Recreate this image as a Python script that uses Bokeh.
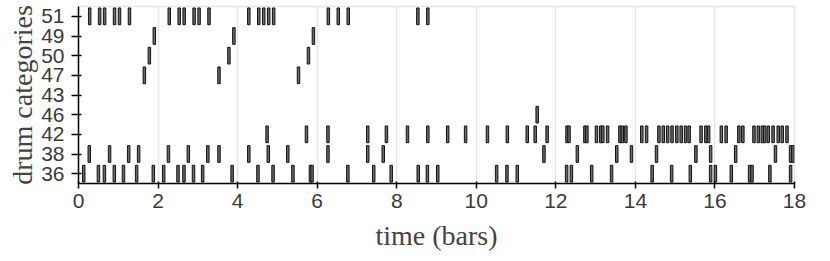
from bokeh.plotting import figure
from bokeh.models import ColumnDataSource, FactorRange, Range1d, FixedTicker
from bokeh.embed import file_html
from bokeh.resources import INLINE

# categories from bottom to top
categories = ["36", "38", "42", "46", "43", "47", "50", "49", "51"]
x_ticks = [0, 2, 4, 6, 8, 10, 12, 14, 16, 18]
note_duration = 0.0625

onsets_51 = [0.25, 0.5, 0.625, 0.875, 1.0, 1.25, 2.25, 2.5, 2.625, 2.875, 3.0, 3.25,
             4.25, 4.5, 4.625, 4.75, 4.875, 6.25, 6.5, 6.75, 8.5, 8.75]
onsets_49 = [1.875, 3.875, 5.875]
onsets_50 = [1.75, 3.75, 5.75]
onsets_47 = [1.625, 3.5, 5.5]
onsets_43 = []
onsets_46 = [11.5]
onsets_42 = [4.71, 5.70, 6.24, 7.24, 7.71, 8.24, 8.75, 9.25, 9.70, 10.25, 10.75, 11.25,
             11.45, 11.75, 12.25, 12.30, 12.70, 12.75, 12.99, 13.10, 13.15, 13.27, 13.58,
             13.64, 13.73, 14.13, 14.25, 14.56, 14.67, 14.78, 14.89, 15.01, 15.12, 15.23,
             15.32, 15.62, 15.74, 15.81, 16.13, 16.25, 16.57, 16.67, 16.95, 17.06, 17.16,
             17.22, 17.31, 17.43, 17.56, 17.66, 17.78]
onsets_38 = [0.24, 0.75, 1.23, 1.48, 2.23, 2.73, 3.22, 3.50, 4.25, 4.74, 5.23, 6.24,
             7.24, 7.63, 11.67, 12.51, 13.50, 13.87, 14.50, 15.49, 15.86, 16.49, 17.49,
             17.87, 17.93]
onsets_36 = [0.10, 0.47, 0.62, 0.87, 1.10, 1.43, 1.85, 2.11, 2.47, 2.62, 2.86, 3.09,
             3.83, 4.48, 4.86, 5.36, 5.80, 5.84, 6.74, 7.39, 7.83, 8.51, 8.74, 9.00,
             10.48, 10.74, 11.00, 12.24, 12.36, 12.87, 13.37, 14.39, 14.88, 15.35, 15.86,
             15.98, 16.38, 16.84, 16.90, 17.35, 17.87]

rows = {"51": onsets_51, "49": onsets_49, "50": onsets_50, "47": onsets_47,
        "43": onsets_43, "46": onsets_46, "42": onsets_42, "38": onsets_38,
        "36": onsets_36}

xs, ys = [], []
for cat, ons in rows.items():
    for t in ons:
        xs.append(t + note_duration / 2)
        ys.append(cat)
source = ColumnDataSource(dict(x=xs, y=ys))

p = figure(frame_width=716, frame_height=177,
           x_range=Range1d(0, 18), y_range=FactorRange(*categories, range_padding=0),
           output_backend="svg", toolbar_location=None,
           min_border_left=78, min_border_right=16, min_border_top=6, min_border_bottom=0)

p.rect(x="x", y="y", width=note_duration, height=0.85, source=source,
       fill_color="#6a6a6a", line_color="#111111", line_width=1)

p.outline_line_color = "#e6e6e6"
p.outline_line_width = 1.5
p.ygrid.grid_line_color = None
p.xgrid.grid_line_color = "#e6e6e6"
p.xgrid.grid_line_width = 1.5
p.xaxis.ticker = FixedTicker(ticks=x_ticks)

for ax in (p.xaxis[0], p.yaxis[0]):
    ax.axis_line_color = "black"
    ax.axis_line_width = 1.5
    ax.major_tick_line_color = "black"
    ax.major_tick_line_width = 1.5
    ax.minor_tick_line_color = None
    ax.major_label_text_font = "Liberation Sans"
    ax.major_label_text_font_size = "21px"
    ax.major_label_text_color = "#3a3a3a"
    ax.axis_label_text_font = "Liberation Serif"
    ax.axis_label_text_font_style = "normal"
    ax.axis_label_text_font_size = "28px"
    ax.axis_label_text_color = "#444444"

p.xaxis.major_tick_in = 2
p.xaxis.major_tick_out = 5
p.xaxis.major_label_standoff = 5
p.xaxis.axis_label = "time (bars)"
p.xaxis.axis_label_standoff = 9
p.yaxis.major_tick_in = 3
p.yaxis.major_tick_out = 7
p.yaxis.major_label_standoff = 7
p.yaxis.axis_label = "drum categories"
p.yaxis.axis_label_standoff = 0

open("out.html", "w").write(file_html(p, INLINE))
